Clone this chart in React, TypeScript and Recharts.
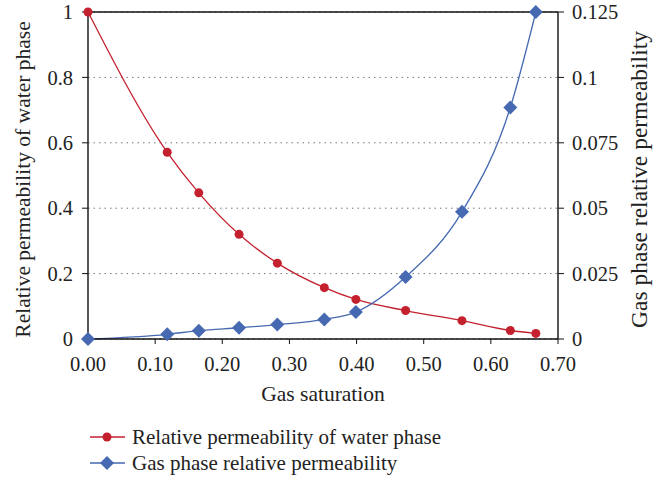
import React from "react";
import {
  ComposedChart,
  Line,
  XAxis,
  YAxis,
  CartesianGrid,
  ReferenceLine,
  Legend,
} from "recharts";

const gasSaturation = [0, 0.118, 0.165, 0.225, 0.282, 0.352, 0.399, 0.473, 0.557, 0.629, 0.667];
const waterPerm = [1, 0.571, 0.447, 0.32, 0.232, 0.157, 0.121, 0.087, 0.056, 0.026, 0.017];
const gasPerm = [0, 0.0018, 0.0032, 0.0043, 0.0055, 0.0075, 0.0103, 0.0237, 0.0486, 0.0885, 0.125];

const xTicks = [0, 0.1, 0.2, 0.3, 0.4, 0.5, 0.6, 0.7];
const leftTicks = [0, 0.2, 0.4, 0.6, 0.8, 1];
const rightTicks = [0, 0.025, 0.05, 0.075, 0.1, 0.125];

const RED = "#C4212F";
const BLUE = "#4669B2";
const FONT = "Liberation Serif";
const FS = 20.5;
const INK = "#222";

const data = gasSaturation.map((x, i) => ({ x, water: waterPerm[i], gas: gasPerm[i] }));

const Diamond = (props: any) => {
  const { cx, cy, size = 7, fill } = props;
  if (cx == null || cy == null) return null;
  return (
    <path
      d={`M${cx},${cy - size} L${cx + size},${cy} L${cx},${cy + size} L${cx - size},${cy} Z`}
      fill={fill}
    />
  );
};

// tick renderers with explicit font so the svg text is serif
const XTick = ({ x, y, payload }: any) => (
  <text x={x} y={y} dy="0.71em" textAnchor="middle" fill={INK} fontSize={FS} fontFamily={FONT}>
    {Number(payload.value).toFixed(2)}
  </text>
);

const LeftTick = ({ x, y, payload }: any) => (
  <text x={x} y={y} dy="0.35em" textAnchor="end" fill={INK} fontSize={FS} fontFamily={FONT}>
    {String(payload.value)}
  </text>
);

const RightTick = ({ x, y, payload }: any) => (
  <text x={x} y={y} dy="0.35em" textAnchor="start" fill={INK} fontSize={FS} fontFamily={FONT}>
    {String(payload.value)}
  </text>
);

const AxisTitle = ({ text, angle, cx, cy, size }: { text: string; angle: number; cx: number; cy: number; size: number }) => (
  <text
    x={cx}
    y={cy}
    dy="0.35em"
    textAnchor="middle"
    fill={INK}
    fontSize={size}
    fontFamily={FONT}
    transform={angle ? `rotate(${angle} ${cx} ${cy})` : undefined}
  >
    {text}
  </text>
);

const LegendBox = () => {
  const rows = [
    { name: "Relative permeability of water phase", color: RED, shape: "circle" },
    { name: "Gas phase relative permeability", color: BLUE, shape: "diamond" },
  ];
  return (
    <div style={{ fontFamily: FONT, fontSize: 21, color: INK }}>
      {rows.map((r) => (
        <div key={r.name} style={{ display: "flex", alignItems: "center", height: 26 }}>
          <svg width={40} height={20} style={{ marginRight: 4 }}>
            <line x1={2} y1={10} x2={37} y2={10} stroke={r.color} strokeWidth={1.3} />
            {r.shape === "circle" ? (
              <circle cx={19} cy={10} r={4.5} fill={r.color} />
            ) : (
              <Diamond cx={19} cy={10} size={7} fill={r.color} />
            )}
          </svg>
          <span>{r.name}</span>
        </div>
      ))}
    </div>
  );
};

export default function App() {
  return (
    <div style={{ position: "absolute", left: 0, top: 0, background: "#fff" }}>
      <ComposedChart
        width={653}
        height={479}
        data={data}
        margin={{ top: 12, right: 0, left: 0, bottom: 28 }}
      >
        <CartesianGrid
          yAxisId="left"
          vertical={false}
          stroke="#777"
          strokeDasharray="1.5 4"
        />
        <XAxis
          dataKey="x"
          type="number"
          domain={[0, 0.7]}
          ticks={xTicks}
          interval={0}
          tick={<XTick />}
          tickSize={5}
          tickMargin={12}
          stroke="#111"
          axisLine={{ stroke: "#111", strokeWidth: 1.4 }}
          height={60}
          label={{
            content: (p: any) => (
              <AxisTitle
                text="Gas saturation"
                angle={0}
                size={21.5}
                cx={p.viewBox.x + p.viewBox.width / 2}
                cy={393}
              />
            ),
          }}
        />
        <YAxis
          yAxisId="left"
          domain={[0, 1]}
          ticks={leftTicks}
          interval={0}
          tick={<LeftTick />}
          tickSize={6}
          tickMargin={9}
          stroke="#111"
          axisLine={{ stroke: "#111", strokeWidth: 1.4 }}
          width={88}
          label={{
            content: (p: any) => (
              <AxisTitle
                text="Relative permeability of water phase"
                angle={-90}
                size={21.5}
                cx={22}
                cy={p.viewBox.y + p.viewBox.height / 2 + 4}
              />
            ),
          }}
        />
        <YAxis
          yAxisId="right"
          orientation="right"
          domain={[0, 0.125]}
          ticks={rightTicks}
          interval={0}
          tick={<RightTick />}
          tickSize={6}
          tickMargin={8}
          stroke="#111"
          axisLine={{ stroke: "#111", strokeWidth: 1.4 }}
          width={95}
          label={{
            content: (p: any) => (
              <AxisTitle
                text="Gas phase relative permeability"
                angle={-90}
                size={23.5}
                cx={639}
                cy={p.viewBox.y + p.viewBox.height / 2 + 4}
              />
            ),
          }}
        />
        <ReferenceLine yAxisId="left" y={1} stroke="#111" strokeWidth={1.4} />
        <Legend
          layout="vertical"
          align="center"
          verticalAlign="bottom"
          content={<LegendBox />}
          wrapperStyle={{ left: 88, top: 424, width: "auto", bottom: "auto" }}
        />
        <Line
          yAxisId="left"
          dataKey="water"
          type="monotone"
          stroke={RED}
          strokeWidth={1.3}
          dot={{ r: 4.5, fill: RED, stroke: "none" }}
          isAnimationActive={false}
        />
        <Line
          yAxisId="right"
          dataKey="gas"
          type="monotone"
          stroke={BLUE}
          strokeWidth={1.3}
          dot={(p: any) => <Diamond key={p.index} cx={p.cx} cy={p.cy} size={7} fill={BLUE} />}
          isAnimationActive={false}
        />
      </ComposedChart>
    </div>
  );
}
